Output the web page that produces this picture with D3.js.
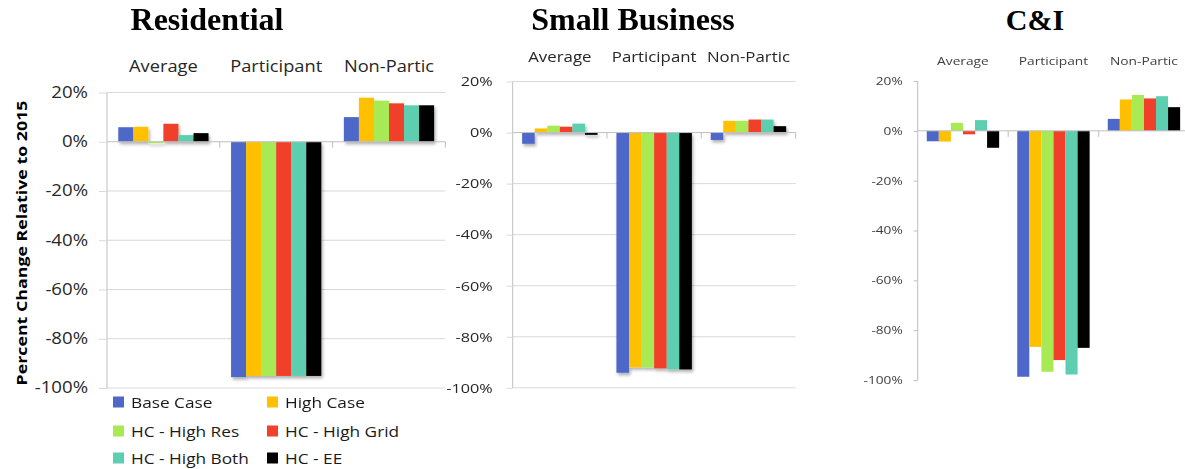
<!DOCTYPE html>
<html>
<head>
<meta charset="utf-8">
<script src="https://cdn.jsdelivr.net/npm/d3@7/dist/d3.min.js"></script>
<style>
  html, body { margin: 0; padding: 0; background: #fff; }
  svg { display: block; }
</style>
</head>
<body>
<svg id="chart" width="1185" height="469"></svg>
<script>
// Categories, scenarios and axis ticks
const categories = ["Average", "Participant", "Non-Partic"];
const scenarios = ["Base Case", "High Case", "HC - High Res", "HC - High Grid", "HC - High Both", "HC - EE"];
const scenarioColors = ["#4E67C8", "#FFC000", "#A7EA52", "#F0412A", "#5DCEAF", "#000000"];
const yTicks = [20, 0, -20, -40, -60, -80, -100];

// Percent change relative to 2015, one value per scenario
const resAverage     = [5.9, 6.1, -0.6, 7.3, 2.7, 3.5];
const resParticipant = [-95.6, -95.1, -95.1, -95.1, -95.1, -95.1];
const resNonPartic   = [10.0, 17.9, 16.7, 15.6, 14.8, 14.8];

const sbAverage      = [-4.4, 1.6, 2.7, 2.3, 3.5, -0.9];
const sbParticipant  = [-94.1, -92.0, -92.0, -92.4, -92.8, -92.8];
const sbNonPartic    = [-2.9, 4.6, 4.6, 5.1, 5.1, 2.5];

const ciAverage      = [-4.2, -4.3, 3.2, -1.4, 4.3, -6.8];
const ciParticipant  = [-98.7, -86.7, -96.7, -92.0, -97.8, -87.1];
const ciNonPartic    = [4.8, 12.6, 14.4, 13.0, 13.9, 9.5];

const FONT = "'Open Sans', sans-serif";

// Widen rendered text horizontally by factor k
function stretch(sel, k) {
  sel.each(function () {
    const len = this.getComputedTextLength();
    d3.select(this).attr("textLength", len * k).attr("lengthAdjust", "spacingAndGlyphs");
  });
}

const svg = d3.select("#chart");
const defs = svg.append("defs");

defs.append("filter").attr("id", "barShadow")
  .attr("x", "-30%").attr("y", "-10%").attr("width", "170%").attr("height", "130%")
  .append("feDropShadow")
  .attr("dx", 1.5).attr("dy", 2.5).attr("stdDeviation", 1.8)
  .attr("flood-color", "#000").attr("flood-opacity", 0.3);

defs.append("filter").attr("id", "soft")
  .append("feGaussianBlur").attr("stdDeviation", 0.55);

const panels = [
  {
    title: "Residential", titleX: 207, titleSize: 32,
    axisX: 107, bandW: 112.8, yTop: 92.5, yBot: 388,
    catY: 72, catSize: 16, catStretch: 1.14,
    tickSize: 15.5, tickStretch: 1.2, tickLen: 8, tickPad: 11,
    grid: true, soft: false, textColor: "#262626",
    values: [resAverage, resParticipant, resNonPartic]
  },
  {
    title: "Small Business", titleX: 633, titleSize: 32,
    axisX: 512.7, bandW: 94.3, yTop: 81.5, yBot: 387.8,
    catY: 62, catSize: 14, catStretch: 1.2,
    tickSize: 13.5, tickStretch: 1.2, tickLen: 6, tickPad: 14,
    grid: true, soft: false, textColor: "#262626",
    values: [sbAverage, sbParticipant, sbNonPartic]
  },
  {
    title: "C&I", titleX: 1035, titleSize: 30,
    axisX: 917.7, bandW: 90.5, yTop: 81, yBot: 380,
    catY: 65, catSize: 11, catStretch: 1.25,
    tickSize: 10.5, tickStretch: 1.3, tickLen: 4, tickPad: 11,
    grid: false, soft: true, textColor: "#404040",
    values: [ciAverage, ciParticipant, ciNonPartic]
  }
];

panels.forEach(p => {
  const g = svg.append("g");

  const x = d3.scaleBand().domain(categories)
    .range([p.axisX, p.axisX + p.bandW * categories.length]).padding(0);
  const xs = d3.scaleBand().domain(scenarios)
    .range([0, x.bandwidth()]).paddingInner(0).paddingOuter(0.75);
  const y = d3.scaleLinear().domain([20, -100]).range([p.yTop, p.yBot]);
  const right = x.range()[1];

  // Title
  svg.append("text")
    .attr("x", p.titleX).attr("y", 30)
    .attr("text-anchor", "middle")
    .attr("font-family", "'Liberation Serif', 'Times New Roman', serif")
    .attr("font-weight", "bold")
    .attr("font-size", p.titleSize)
    .attr("fill", "#000")
    .text(p.title);

  const body = g.append("g").attr("filter", p.soft ? "url(#soft)" : null);

  // Horizontal gridlines
  if (p.grid) {
    body.append("g").selectAll("line")
      .data(yTicks.filter(t => t !== 0))
      .join("line")
      .attr("x1", p.axisX).attr("x2", right)
      .attr("y1", d => y(d)).attr("y2", d => y(d))
      .attr("stroke", "#D9D9D9").attr("stroke-width", 1);
  }

  // Vertical value axis with labels
  const yAxis = d3.axisLeft(y)
    .tickValues(yTicks)
    .tickFormat(d => d + "%")
    .tickSize(p.tickLen)
    .tickPadding(p.tickPad);
  const ya = body.append("g")
    .attr("transform", `translate(${p.axisX},0)`)
    .call(yAxis);
  ya.select(".domain").attr("stroke", "#BFBFBF").attr("d", `M0,${p.yTop}V${p.yBot}`);
  ya.selectAll(".tick line").attr("stroke", p.grid ? "#D9D9D9" : "#BFBFBF");
  ya.selectAll(".tick text")
    .attr("font-family", FONT)
    .attr("font-size", p.tickSize)
    .attr("fill", p.textColor)
    .call(stretch, p.tickStretch);

  // Category labels
  body.append("g").selectAll("text")
    .data(categories)
    .join("text")
    .attr("x", d => x(d) + x.bandwidth() / 2)
    .attr("y", p.catY)
    .attr("text-anchor", "middle")
    .attr("font-family", FONT)
    .attr("font-size", p.catSize)
    .attr("fill", p.textColor)
    .text(d => d)
    .call(stretch, p.catStretch);

  // Bars
  const groups = body.append("g")
    .attr("filter", p.soft ? null : "url(#barShadow)")
    .selectAll("g")
    .data(categories.map((c, i) => ({ cat: c, vals: p.values[i] })))
    .join("g")
    .attr("transform", d => `translate(${x(d.cat)},0)`);
  groups.selectAll("rect")
    .data(d => d.vals.map((v, j) => ({ s: scenarios[j], v, c: scenarioColors[j] })))
    .join("rect")
    .attr("x", d => xs(d.s))
    .attr("width", xs.bandwidth())
    .attr("y", d => Math.min(y(d.v), y(0)))
    .attr("height", d => Math.abs(y(d.v) - y(0)))
    .attr("fill", d => d.c);

  // Category axis at zero, with boundary ticks
  body.append("line")
    .attr("x1", p.axisX).attr("x2", right)
    .attr("y1", y(0)).attr("y2", y(0))
    .attr("stroke", "#BFBFBF").attr("stroke-width", 1);
  body.append("g").selectAll("line")
    .data(categories.slice(1).concat(["__end"]))
    .join("line")
    .attr("x1", d => d === "__end" ? right : x(d))
    .attr("x2", d => d === "__end" ? right : x(d))
    .attr("y1", y(0)).attr("y2", y(0) + 6)
    .attr("stroke", "#BFBFBF").attr("stroke-width", 1);
});

// Shared vertical axis title
svg.append("text")
  .attr("transform", "translate(27,243) rotate(-90)")
  .attr("text-anchor", "middle")
  .attr("font-family", FONT)
  .attr("font-weight", "bold")
  .attr("font-size", 15)
  .attr("fill", "#000")
  .attr("textLength", 285)
  .attr("lengthAdjust", "spacingAndGlyphs")
  .text("Percent Change Relative to 2015");

// Legend
const legendCols = [113, 267];
const legendRows = [402, 431, 458];
const legend = svg.append("g").selectAll("g")
  .data(scenarios)
  .join("g")
  .attr("transform", (d, i) => `translate(${legendCols[i % 2]},${legendRows[Math.floor(i / 2)]})`);
legend.append("rect")
  .attr("x", 0).attr("y", -5.5)
  .attr("width", 11).attr("height", 11)
  .attr("fill", (d, i) => scenarioColors[i]);
legend.append("text")
  .attr("x", 18).attr("y", 5.5)
  .attr("font-family", FONT)
  .attr("font-size", 15)
  .attr("fill", "#1a1a1a")
  .text(d => d)
  .call(stretch, 1.15);
</script>
</body>
</html>
